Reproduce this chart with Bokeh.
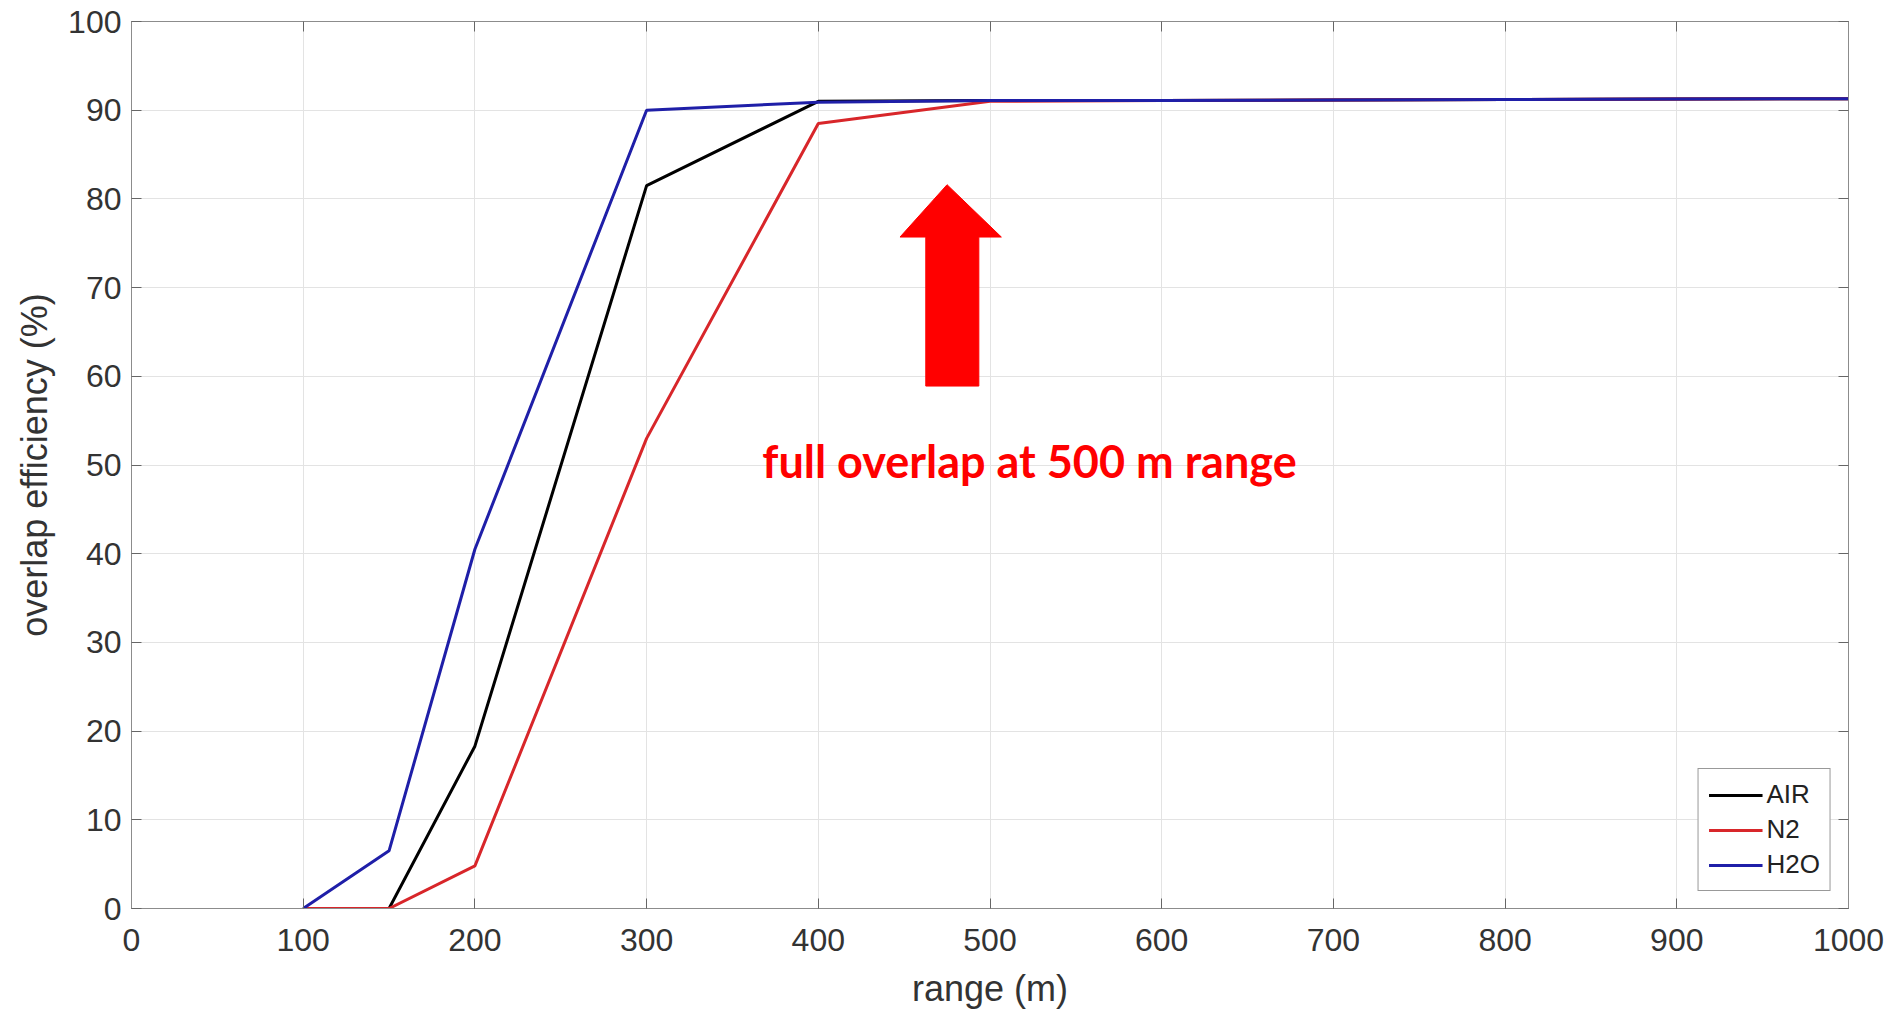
from bokeh.plotting import figure
from bokeh.embed import file_html
from bokeh.resources import INLINE
from bokeh.models import LinearAxis, Range1d, FixedTicker, Legend, LegendItem
from bokeh.core.properties import value

# data
range_m = [100, 150, 200, 300, 400, 500, 600, 700, 800, 900, 1000]
air = [None, 0.0, 18.3, 81.5, 91.0, 91.1, 91.1, 91.15, 91.2, 91.25, 91.3]
n2 = [0.0, 0.0, 4.8, 53.0, 88.5, 91.0, 91.1, 91.15, 91.2, 91.25, 91.3]
h2o = [0.0, 6.5, 40.5, 90.0, 90.9, 91.1, 91.1, 91.15, 91.2, 91.25, 91.3]
series_names = ["AIR", "N2", "H2O"]
series_colors = ["#000000", "#d8262a", "#1f1fa8"]
x_ticks = [0, 100, 200, 300, 400, 500, 600, 700, 800, 900, 1000]
y_ticks = [0, 10, 20, 30, 40, 50, 60, 70, 80, 90, 100]
annotation_text = "full overlap at 500 m range"
annotation_pos = (523, 50.5)
arrow_x = [462.6, 462.6, 447.6, 475.0, 506.6, 493.5, 493.5]
arrow_y = [58.9, 75.7, 75.7, 81.6, 75.7, 75.7, 58.9]

W, H = 1898, 1013
p = figure(width=W, height=H, output_backend="svg", toolbar_location=None,
           x_range=Range1d(0, 1000), y_range=Range1d(0, 100),
           min_border_left=131, min_border_right=50, min_border_top=21, min_border_bottom=105,
           background_fill_color="white", border_fill_color="white")
p.outline_line_color = "#8c8c8c"
p.outline_line_width = 1

font = "Liberation Sans"
for ax in (p.xaxis[0], p.yaxis[0]):
    ax.major_label_text_font = font
    ax.major_label_text_font_size = "32px"
    ax.major_label_text_color = "#333333"
    ax.axis_label_text_font = font
    ax.axis_label_text_font_size = "36px"
    ax.axis_label_text_font_style = "normal"
    ax.axis_label_text_color = "#333333"
    ax.axis_line_color = "#8c8c8c"
    ax.major_tick_line_color = "#666666"
    ax.major_tick_in = 10
    ax.major_tick_out = 0
    ax.minor_tick_line_color = None
    ax.major_label_standoff = 10
p.xaxis[0].ticker = FixedTicker(ticks=x_ticks)
p.yaxis[0].ticker = FixedTicker(ticks=y_ticks)
p.xaxis[0].axis_label = "range (m)"
p.yaxis[0].axis_label = "overlap efficiency (%)"
p.xaxis[0].major_label_standoff = 20
p.xaxis[0].axis_label_standoff = 14
p.yaxis[0].axis_label_standoff = 10

for loc, ticks in (("above", x_ticks), ("right", y_ticks)):
    ax = LinearAxis(ticker=FixedTicker(ticks=ticks), major_label_text_font_size="0px",
                    major_label_text_color=None, axis_line_color="#8c8c8c",
                    major_tick_line_color="#666666", major_tick_in=10, major_tick_out=0,
                    minor_tick_line_color=None, major_label_standoff=0)
    p.add_layout(ax, loc)

p.xgrid.grid_line_color = "#e3e3e3"
p.ygrid.grid_line_color = "#e3e3e3"
p.xgrid.ticker = FixedTicker(ticks=x_ticks)
p.ygrid.ticker = FixedTicker(ticks=y_ticks)

renderers = []
for name, ys, col in zip(series_names, [air, n2, h2o], series_colors):
    xs = [x for x, y in zip(range_m, ys) if y is not None]
    yv = [y for y in ys if y is not None]
    r = p.line(xs, yv, line_color=col, line_width=3)
    renderers.append((name, r))

p.patch(arrow_x, arrow_y, fill_color="#ff0000", line_color="#ff0000", line_width=1)
p.text(x=[annotation_pos[0]], y=[annotation_pos[1]], text=[annotation_text],
       text_font=value("Lato"), text_font_style="bold", text_font_size="45px",
       text_color="#ff0000", text_align="center", text_baseline="middle")

legend = Legend(items=[LegendItem(label=n, renderers=[r]) for n, r in renderers],
                location="bottom_right", margin=17, padding=10, spacing=4,
                glyph_width=54, glyph_height=30, label_height=30, label_standoff=4,
                label_text_font=font, label_text_font_size="26px", label_text_color="#222222",
                border_line_color="#333333", border_line_width=1,
                background_fill_color="white", background_fill_alpha=1)
p.add_layout(legend)

open("out.html", "w").write(file_html(p, INLINE))
